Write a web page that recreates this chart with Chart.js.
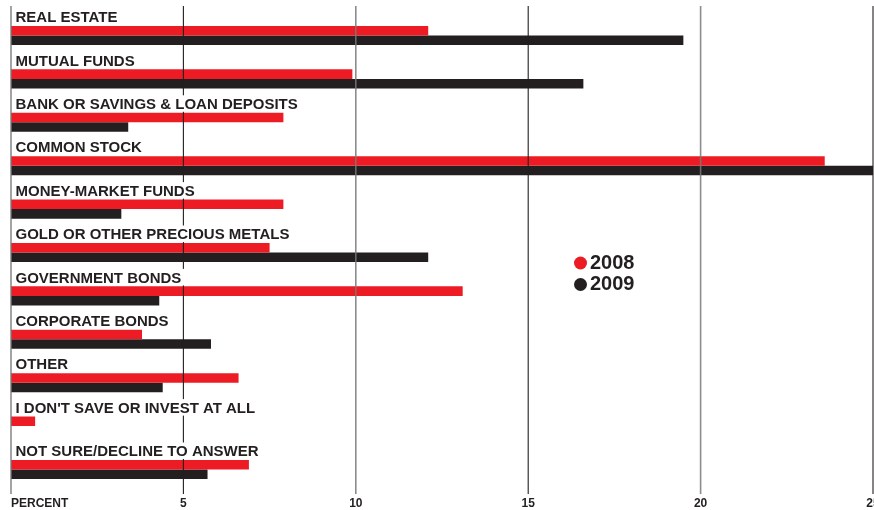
<!DOCTYPE html>
<html>
<head>
<meta charset="utf-8">
<script src="https://cdn.jsdelivr.net/npm/chart.js@4/dist/chart.umd.min.js"></script>
<style>
  html, body { margin: 0; padding: 0; background: #fff; }
  #wrap { width: 874px; height: 510px; position: relative; }
</style>
</head>
<body>
<div id="wrap"><canvas id="grafico"></canvas></div>
<script>
// Dados do gráfico
const categorias = [
    'REAL ESTATE',
    'MUTUAL FUNDS',
    'BANK OR SAVINGS & LOAN DEPOSITS',
    'COMMON STOCK',
    'MONEY-MARKET FUNDS',
    'GOLD OR OTHER PRECIOUS METALS',
    'GOVERNMENT BONDS',
    'CORPORATE BONDS',
    'OTHER',
    "I DON'T SAVE OR INVEST AT ALL",
    'NOT SURE/DECLINE TO ANSWER'
];
const valores2008 = [12.1, 9.9, 7.9, 23.6, 7.9, 7.5, 13.1, 3.8, 6.6, 0.7, 6.9];
const valores2009 = [19.5, 16.6, 3.4, 25, 3.2, 12.1, 4.3, 5.8, 4.4, 0, 5.7];
const series = ['2008', '2009'];
const ticksX = [0, 5, 10, 15, 20, 25];

const VERMELHO = '#ed1c24';
const PRETO = '#231f20';

// Grade, rótulos das categorias, eixo e legenda
const pluginDesenho = {
    id: 'desenho',
    afterDatasetsDraw(chart) {
        const ctx = chart.ctx;
        const x = chart.scales.x;
        const y = chart.scales.y;

        // Linhas verticais (cinza / preta alternadas)
        ticksX.forEach((v, i) => {
            const px = x.getPixelForValue(v);
            ctx.save();
            ctx.beginPath();
            ctx.strokeStyle = i % 2 === 0 ? 'rgba(120,120,120,0.85)' : PRETO;
            ctx.lineWidth = i % 2 === 0 ? 1.6 : 1.1;
            ctx.moveTo(px, 6);
            ctx.lineTo(px, 494);
            ctx.stroke();
            ctx.restore();
        });

        // Rótulos das categorias com fundo branco
        ctx.save();
        ctx.font = 'bold 15px "Liberation Sans", Arial, sans-serif';
        ctx.textBaseline = 'middle';
        categorias.forEach((cat, i) => {
            const cy = y.getPixelForValue(i) - 18;
            const w = ctx.measureText(cat).width;
            ctx.fillStyle = '#fff';
            ctx.fillRect(15, cy - 9, w + 12, 16.5);
            ctx.fillStyle = PRETO;
            ctx.fillText(cat, 15.5, cy + 0.5);
        });
        ctx.restore();

        // Rótulos do eixo X
        ctx.save();
        ctx.font = 'bold 12px "Liberation Sans", Arial, sans-serif';
        ctx.textBaseline = 'middle';
        ctx.fillStyle = PRETO;
        ticksX.forEach(v => {
            const px = x.getPixelForValue(v);
            if (v === 0) {
                ctx.textAlign = 'left';
                ctx.fillText('PERCENT', px, 504);
            } else {
                ctx.textAlign = 'center';
                ctx.fillText(String(v), px, 504);
            }
        });
        ctx.restore();

        // Legenda
        ctx.save();
        ctx.font = 'bold 20px "Liberation Sans", Arial, sans-serif';
        ctx.textBaseline = 'middle';
        chart.data.datasets.forEach((ds, i) => {
            const ly = 263 + i * 21.5;
            ctx.fillStyle = ds.backgroundColor;
            ctx.beginPath();
            ctx.arc(580.5, ly, 6.5, 0, Math.PI * 2);
            ctx.fill();
            ctx.fillStyle = PRETO;
            ctx.fillText(ds.label, 590, ly);
        });
        ctx.restore();
    }
};

const ctxGrafico = document.getElementById('grafico').getContext('2d');
new Chart(ctxGrafico, {
    type: 'bar',
    data: {
        labels: categorias,
        datasets: [
            { label: series[0], data: valores2008, backgroundColor: VERMELHO },
            { label: series[1], data: valores2009, backgroundColor: PRETO }
        ]
    },
    options: {
        indexAxis: 'y',
        responsive: true,
        maintainAspectRatio: false,
        animation: false,
        layout: {
            padding: { left: 11, right: 1, top: 13.8, bottom: 18.8 }
        },
        datasets: {
            bar: {
                barPercentage: 1,
                categoryPercentage: 0.44,
                borderWidth: 0
            }
        },
        scales: {
            x: { display: false, min: 0, max: 25 },
            y: { display: false }
        },
        plugins: {
            legend: { display: false },
            tooltip: { enabled: false }
        }
    },
    plugins: [pluginDesenho]
});
</script>
</body>
</html>
